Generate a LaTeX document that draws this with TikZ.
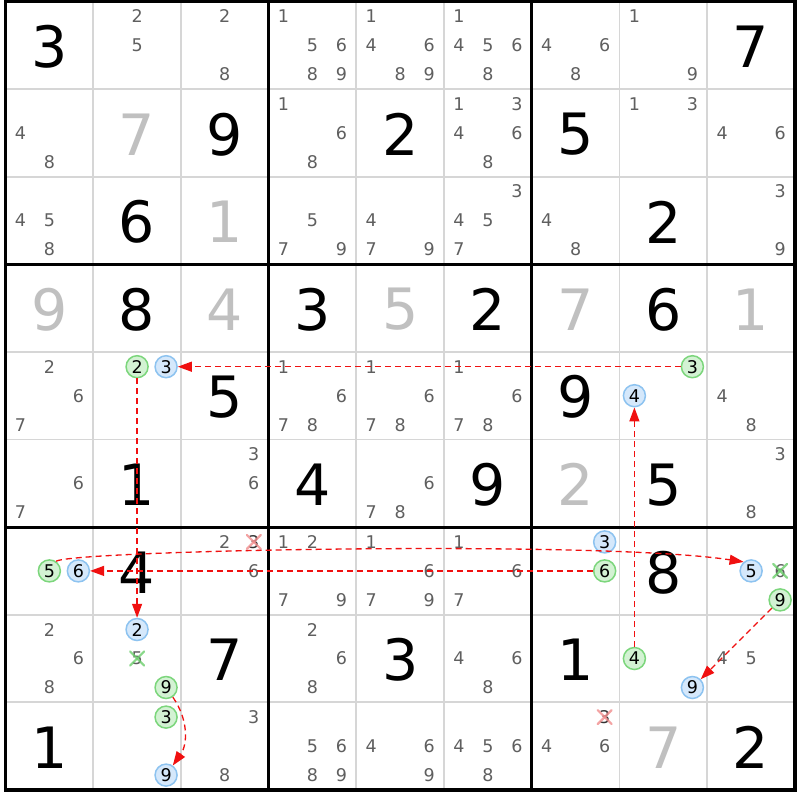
\documentclass[tikz,border=0pt]{standalone}
\usepackage{fontspec}
\setmainfont{DejaVu Sans}
\usetikzlibrary{arrows.meta}
\definecolor{candc}{HTML}{5F5F5F}
\definecolor{solvedc}{HTML}{C0C0C0}
\definecolor{thinc}{HTML}{D6D6D6}
\definecolor{gfill}{HTML}{D3F2D3}
\definecolor{gdraw}{HTML}{7CD67C}
\definecolor{bfill}{HTML}{D5E8FB}
\definecolor{bdraw}{HTML}{8DC3F0}
\definecolor{linkc}{HTML}{F01010}
\definecolor{xred}{HTML}{F08C8C}
\definecolor{xgreen}{HTML}{6CCF6C}
\tikzset{
  given/.style={font=\fontsize{57}{60}\selectfont, text=black, inner sep=0pt},
  solved/.style={given, text=solvedc},
  cand/.style={font=\fontsize{17.5}{18}\selectfont, text=candc, inner sep=0pt},
  candx/.style={cand, text=black!80},
  gcirc/.style={circle, draw=gdraw, fill=gfill, line width=1.5pt, minimum size=22pt, inner sep=0pt, font=\fontsize{17.5}{18}\selectfont},
  bcirc/.style={gcirc, draw=bdraw, fill=bfill},
  link/.style={draw=linkc, line width=1.3pt, dash pattern=on 6pt off 4pt, -{Triangle[length=14pt,width=10pt]}},
  xmark/.style={line width=2.2pt, line cap=round, opacity=0.8},
  thin/.style={draw=thinc, line width=1.8pt},
  thick/.style={draw=black, line width=3pt},
}
\newcommand\cands[3]{%
  \foreach \d in {#3}{%
    \pgfmathtruncatemacro\sx{mod(\d-1,3)-1}%
    \pgfmathtruncatemacro\sy{int((\d-1)/3)-1}%
    \node[cand] (n#1#2\d) at ([shift={({\sx*29},{\sy*29})}]c#1#2) {\d};}}
\newcommand\xcand[5]{% color r c d
  \pgfmathtruncatemacro\sx{mod(#4-1,3)-1}%
  \pgfmathtruncatemacro\sy{int((#4-1)/3)-1}%
  \node[#5] (n#2#3#4) at ([shift={({\sx*29},{\sy*29})}]c#2#3) {#4};
  \draw[xmark,#1] ([shift={(-7,-7)}]n#2#3#4.center) -- ([shift={(7,7)}]n#2#3#4.center);
  \draw[xmark,#1] ([shift={(-7,7)}]n#2#3#4.center) -- ([shift={(7,-7)}]n#2#3#4.center);}
\newcommand\hcand[4]{%
  \pgfmathtruncatemacro\sx{mod(#4-1,3)-1}%
  \pgfmathtruncatemacro\sy{int((#4-1)/3)-1}%
  \node[#1] (#1#2#3#4) at ([shift={({\sx*29},{\sy*29})}]c#2#3) {#4};}
\begin{document}
\begin{tikzpicture}[x=1pt,y=-1pt]
\useasboundingbox (0,0) rectangle (800,800);
\fill[white] (0,0) rectangle (800,800);
% cell centres
\foreach \r in {0,...,8}{\foreach \c in {0,...,8}{%
  \coordinate (c\r\c) at ({5.5+87.72*(\c+0.5)},{1.5+87.6*(\r+0.5)});}}
% grid
\foreach \i in {1,2,4,5,7,8}{%
  \draw[thin] ({5.5+87.72*\i},1.5) -- ({5.5+87.72*\i},790);
  \draw[thin] (5.5,{1.5+87.6*\i}) -- (795,{1.5+87.6*\i});}
\foreach \i in {3,6}{%
  \draw[thick] ({5.5+87.72*\i},1.5) -- ({5.5+87.72*\i},790);
  \draw[thick] (5.5,{1.5+87.6*\i}) -- (795,{1.5+87.6*\i});}
\draw[thick, line width=3.5pt] (5.5,1.5) rectangle (795,790);
% given digits
\foreach \r/\c/\v in {0/0/3,0/8/7,1/2/9,1/4/2,1/6/5,2/1/6,2/7/2,3/1/8,3/3/3,3/5/2,3/7/6,
  4/2/5,4/6/9,5/1/1,5/3/4,5/5/9,5/7/5,6/1/4,6/7/8,7/2/7,7/4/3,7/6/1,8/0/1,8/8/2}{%
  \node[given] (gv\r\c) at ([yshift=-1.5]c\r\c) {\v};}
% solved digits
\foreach \r/\c/\v in {1/1/7,2/2/1,3/0/9,3/2/4,3/4/5,3/6/7,3/8/1,5/6/2,8/7/7}{%
  \node[solved] (sv\r\c) at ([yshift=-1.5]c\r\c) {\v};}
% candidates
\cands{0}{1}{2,5}
\cands{0}{2}{2,8}
\cands{0}{3}{1,5,6,8,9}
\cands{0}{4}{1,4,6,8,9}
\cands{0}{5}{1,4,5,6,8}
\cands{0}{6}{4,6,8}
\cands{0}{7}{1,9}
\cands{1}{0}{4,8}
\cands{1}{3}{1,6,8}
\cands{1}{5}{1,3,4,6,8}
\cands{1}{7}{1,3}
\cands{1}{8}{4,6}
\cands{2}{0}{4,5,8}
\cands{2}{3}{5,7,9}
\cands{2}{4}{4,7,9}
\cands{2}{5}{3,4,5,7}
\cands{2}{6}{4,8}
\cands{2}{8}{3,9}
\cands{4}{0}{2,6,7}
\cands{4}{3}{1,6,7,8}
\cands{4}{4}{1,6,7,8}
\cands{4}{5}{1,6,7,8}
\cands{4}{8}{4,8}
\cands{5}{0}{6,7}
\cands{5}{2}{3,6}
\cands{5}{4}{6,7,8}
\cands{5}{8}{3,8}
\cands{6}{2}{2,6}
\cands{6}{3}{1,2,7,9}
\cands{6}{4}{1,6,7,9}
\cands{6}{5}{1,6,7}
\cands{7}{0}{2,6,8}
\cands{7}{3}{2,6,8}
\cands{7}{5}{4,6,8}
\cands{7}{8}{4,5}
\cands{8}{2}{3,8}
\cands{8}{3}{5,6,8,9}
\cands{8}{4}{4,6,9}
\cands{8}{5}{4,5,6,8}
\cands{8}{6}{4,6}
% eliminated candidates
\xcand{xred}{6}{2}{3}{candx}
\xcand{xred}{8}{6}{3}{candx}
\xcand{xgreen}{7}{1}{5}{cand}
\xcand{xgreen}{6}{8}{6}{cand}
% highlighted candidates
\hcand{gcirc}{4}{1}{2}
\hcand{bcirc}{4}{1}{3}
\hcand{gcirc}{4}{7}{3}
\hcand{bcirc}{4}{7}{4}
\hcand{gcirc}{6}{0}{5}
\hcand{bcirc}{6}{0}{6}
\hcand{bcirc}{6}{6}{3}
\hcand{gcirc}{6}{6}{6}
\hcand{bcirc}{6}{8}{5}
\hcand{gcirc}{6}{8}{9}
\hcand{bcirc}{7}{1}{2}
\hcand{gcirc}{7}{1}{9}
\hcand{gcirc}{7}{7}{4}
\hcand{bcirc}{7}{7}{9}
\hcand{gcirc}{8}{1}{3}
\hcand{bcirc}{8}{1}{9}
% links
\draw[link] (gcirc473) -- (bcirc413);
\draw[link] (gcirc412) -- (bcirc712);
\draw[link] (gcirc666) -- (bcirc606);
\draw[link] (gcirc605.55) .. controls ([shift={(16,-11)}]gcirc605.55) and ([shift={(-143,-22)}]bcirc685.130) .. (bcirc685.130);
\draw[link] (gcirc774) -- (bcirc474);
\draw[link] (gcirc689) -- (bcirc779);
\draw[link] (gcirc719) to[bend left=35] (bcirc819);
\end{tikzpicture}
\end{document}
